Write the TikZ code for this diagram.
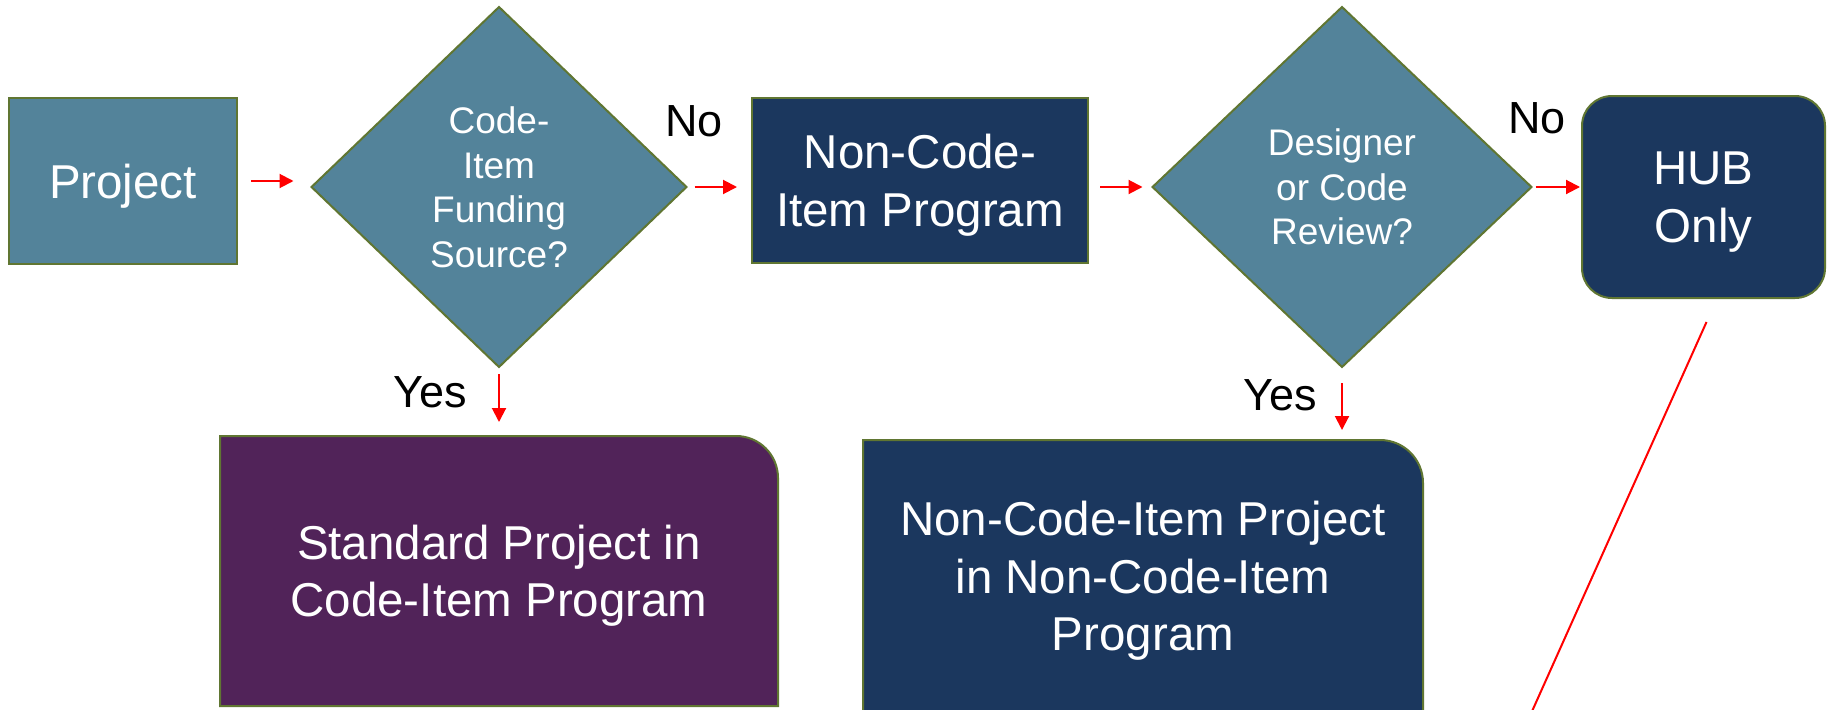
\documentclass[tikz,border=0pt]{standalone}
\usepackage{fontspec}
\setmainfont{Liberation Sans}
\usetikzlibrary{shapes.geometric,arrows.meta,backgrounds}
\definecolor{steel}{RGB}{83,131,154}
\definecolor{navy}{RGB}{27,55,94}
\definecolor{plum}{RGB}{81,35,89}
\definecolor{bordergreen}{RGB}{96,118,50}
\tikzset{
  boxtext/.style={font=\fontsize{47.5}{57.5}\selectfont, text=white, align=center, text depth=0pt},
  sqbox/.style={draw=bordergreen, line width=2pt, inner sep=0pt, outer sep=0pt, boxtext},
  cornerbox/.style={inner sep=0pt, outer sep=0pt, boxtext},
  cornershape/.style={draw=bordergreen, line width=2pt},
  decision/.style={shape=diamond, draw=bordergreen, line width=2pt, fill=steel,
    inner sep=0pt, outer sep=0pt, text=white, align=center, text depth=0pt,
    font=\fontsize{37}{44.5}\selectfont, minimum height=360pt},
  flowarrow/.style={draw=red, line width=2pt, -{Triangle[length=14pt,width=14pt]}},
  plainline/.style={draw=red, line width=2pt},
  answer/.style={font=\fontsize{45}{54}\selectfont, text=black, inner sep=0pt, outer sep=0pt, anchor=base},
}
\begin{document}
\begin{tikzpicture}[x=1pt,y=1pt]
\useasboundingbox (0,0) rectangle (1827,-709);
\begin{scope}[on background layer]
  \fill[white] (0,0) rectangle (1827,-709);
\end{scope}

% top row
\node[sqbox, fill=steel, minimum width=228pt, minimum height=166pt] (proj) at (123,-181) {Project};
\node[decision, minimum width=375pt] (d1) at (499,-187) {Code-\\Item\\Funding\\Source?};
\node[sqbox, fill=navy, minimum width=336pt, minimum height=165pt] (nc) at (920,-180.5) {Non-Code-\\Item Program};
\node[decision, minimum width=379pt] (d2) at (1342,-187) {Designer\\or Code\\Review?};
\node[sqbox, fill=navy, rounded corners=30pt, minimum width=243pt, minimum height=202pt] (hub) at (1703.5,-197) {HUB\\Only};

% bottom row
\node[cornerbox, minimum width=558pt, minimum height=270pt] (std) at (499,-571) {Standard Project in\\Code-Item Program};
\node[cornerbox, minimum width=560pt, minimum height=272pt] (nci) at (1143,-576) {Non-Code-Item Project\\in Non-Code-Item\\Program};
\begin{scope}[on background layer]
  \draw[cornershape, fill=plum] (std.south west) -- (std.north west) -- ([xshift=-42pt]std.north east)
    arc[start angle=90, end angle=0, radius=42pt] -- (std.south east) -- cycle;
  \draw[cornershape, fill=navy] (nci.south west) -- (nci.north west) -- ([xshift=-43pt]nci.north east)
    arc[start angle=90, end angle=0, radius=43pt] -- (nci.south east) -- cycle;
\end{scope}

% labels
\node[answer] (no1) at (694,-136) {No};
\node[answer] (no2) at (1537,-133) {No};
\node[answer] (yes1) at (430.5,-407) {Yes};
\node[answer] (yes2) at (1280,-410) {Yes};

% connectors
\draw[flowarrow, shorten <=14pt, shorten >=18pt] (proj.east) -- (d1.west |- proj.east);
\draw[flowarrow, shorten <=8pt, shorten >=15pt] (d1.east) -- (nc.west |- d1.east);
\draw[flowarrow, shorten <=12pt, shorten >=10pt] (nc.east |- d2.west) -- (d2.west);
\draw[flowarrow, shorten <=4pt, shorten >=2pt] (d2.east) -- (hub.west |- d2.east);
\draw[flowarrow, shorten <=7pt, shorten >=14pt] (d1.south) -- (std.north -| d1.south);
\draw[flowarrow, shorten <=16pt, shorten >=10pt] (d2.south) -- (nci.north -| d2.south);
\coordinate (hubline) at (1516,-747);
\draw[plainline] ([xshift=3pt,yshift=-24pt]hub.south) -- (hubline);
\end{tikzpicture}
\end{document}
